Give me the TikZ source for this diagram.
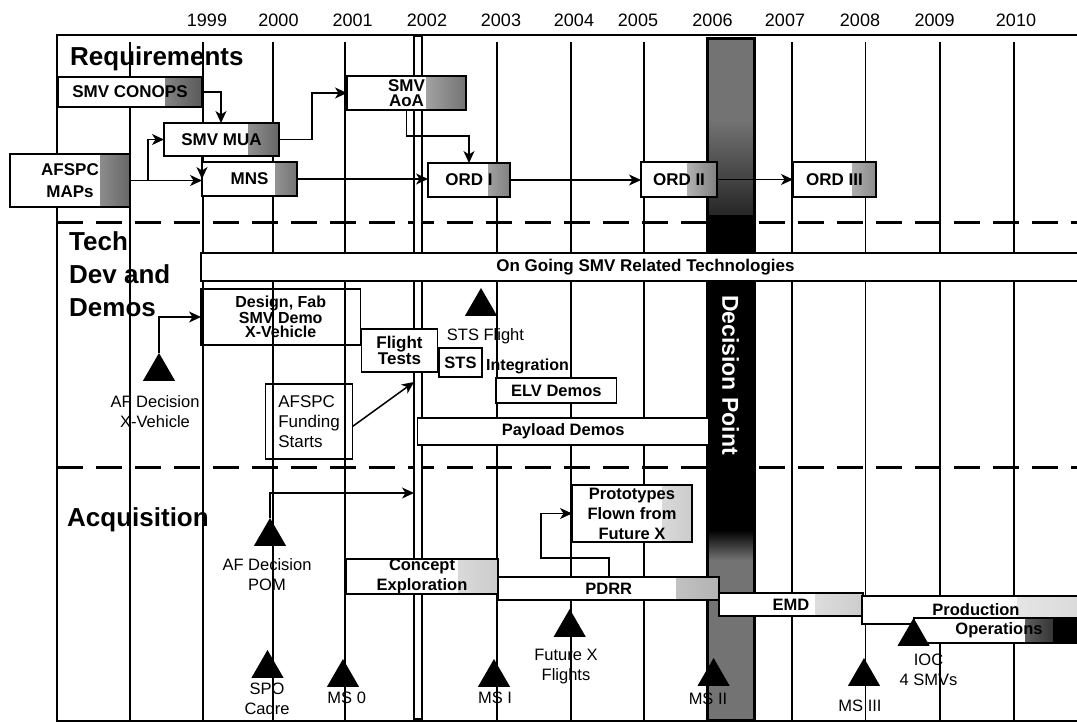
\documentclass[tikz,border=0pt]{standalone}
\usepackage{fontspec}
\setmainfont{Liberation Sans}
\usetikzlibrary{arrows.meta,shapes.geometric,calc}
\tikzset{
 box/.style={draw, line width=1.6pt, fill=white, inner sep=0pt, outer sep=0pt, align=center, font=\fontsize{17}{17}\selectfont\bfseries},
 openbox/.style={draw, line width=1.6pt, inner sep=0pt, outer sep=0pt, align=center},
 gshade/.style 2 args={path picture={\shade[left color=white,right color=#2] ([xshift=-#1]path picture bounding box.north east) rectangle (path picture bounding box.south east);}},
 gline/.style={line width=1.3pt},
 sect/.style={font=\fontsize{26}{26}\selectfont\bfseries, anchor=base west, inner sep=0pt},
 yr/.style={font=\fontsize{18}{18}\selectfont, inner sep=0pt},
 lbl/.style={font=\fontsize{16.5}{20}\selectfont, align=center, inner sep=0pt},
 tri/.style={regular polygon, regular polygon sides=3, fill=black, minimum size=37pt, inner sep=0pt, outer sep=0pt, anchor=corner 1},
 arr/.style={line width=1.5pt, -{Stealth[length=12pt,width=11pt,inset=3.5pt]}},
 sepline/.style={line width=3pt, dash pattern=on 26pt off 13pt},
}
\begin{document}
\begin{tikzpicture}[x=1pt,y=-1pt]
\useasboundingbox (0,0) rectangle (1077,723);
% years
\foreach \yrx/\yrt in {207/1999, 278.5/2000, 352.6/2001, 427/2002, 501/2003, 574/2004, 638/2005, 712.5/2006, 785/2007, 860/2008, 934.6/2009, 1016/2010}
  \node[yr] (y\yrt) at (\yrx,20) {\yrt};
% frame
\draw[line width=1.6pt] (1077,35) -- (57,35) -- (57,721) -- (1077,721);
% section labels
\node[sect] (req) at (70,65) {Requirements};
\node[sect] (tech1) at (69,250) {Tech};
\node[sect] (tech2) at (69,283) {Dev and};
\node[sect] (tech3) at (69,316) {Demos};
\node[sect] (acq) at (67,526) {Acquisition};
% grid
\foreach \gx in {130,203,273,345,497,571,644,792,865.5,940,1014}
  \draw[gline] (\gx,42) -- (\gx,721);
% separators
\draw[sepline] (57,222) -- (1077,222);
\draw[sepline] (57,467) -- (1077,467);
% decision bar
\fill[black!55] (707,38) rectangle (754,720);
\shade[top color=black!55,bottom color=black!85] (707,120) rectangle (754,215);
\fill[black] (707,215) rectangle (754,530);
\shade[top color=black,bottom color=black!55] (707,530) rectangle (754,560);
\draw[line width=3pt] (707,38) rectangle (754,720);
\node[font=\fontsize{23}{23}\selectfont\bfseries, text=white, rotate=-90, inner sep=0pt] (dp) at (730.5,375) {Decision Point};
% now line
\node[draw, fill=white, line width=1.2pt, minimum width=8pt, minimum height=683pt, inner sep=0pt] (now) at (418,377.5) {};
\coordinate (fundtip) at (414,382);
\coordinate (pomtip) at (414,493);

% Requirements boxes
\node[box, gshade={37pt}{black!65}, minimum width=144pt, minimum height=30pt] (conops) at (130,92) {SMV CONOPS};
\node[box, gshade={31pt}{black!60}, minimum width=115pt, minimum height=33pt] (mua) at (221.5,139.5) {SMV MUA};
\node[box, gshade={30pt}{black!60}, minimum width=120pt, minimum height=53pt, font=\fontsize{17}{22}\selectfont\bfseries] (maps) at (70,180.5) {AFSPC\\MAPs};
\node[box, gshade={22pt}{black!55}, minimum width=95pt, minimum height=34pt] (mns) at (249.5,179) {MNS};
\node[box, gshade={40pt}{black!55}, minimum width=119pt, minimum height=34pt, font=\fontsize{17}{15.5}\selectfont\bfseries] (aoa) at (406.5,93) {SMV\\AoA};
\node[box, gshade={22pt}{black!50}, minimum width=82pt, minimum height=34pt] (ordone) at (469,180) {ORD I};
\node[box, gshade={30pt}{black!50}, minimum width=76pt, minimum height=35pt] (ordtwo) at (679,179.5) {ORD II};
\node[box, gshade={24pt}{black!45}, minimum width=83pt, minimum height=35pt] (ordthree) at (834.5,179.5) {ORD III};

% Tech boxes
\node[box, minimum width=889pt, minimum height=28pt] (ongoing) at (645.5,267) {On Going SMV Related Technologies};
\node[openbox, minimum width=159.5pt, minimum height=56pt, font=\fontsize{16}{14.5}\selectfont\bfseries] (design) at (280.75,317) {Design, Fab\\SMV Demo\\X-Vehicle};
\node[box, minimum width=76pt, minimum height=43pt, font=\fontsize{17}{14.5}\selectfont\bfseries] (flight) at (399.5,350.5) {Flight\\Tests};
\node[box, minimum width=43pt, minimum height=29pt, font=\fontsize{16.5}{16.5}\selectfont\bfseries] (sts) at (460.5,362.5) {STS};
\node[font=\fontsize{16}{16}\selectfont\bfseries, anchor=west, inner sep=0pt] (integ) at (486,366) {Integration};
\node[box, minimum width=120.6pt, minimum height=25pt, font=\fontsize{16.5}{16.5}\selectfont\bfseries] (elv) at (556.3,390.5) {ELV Demos};
\node[box, minimum width=291.5pt, minimum height=27pt, font=\fontsize{16.5}{16.5}\selectfont\bfseries] (payload) at (563.25,431.5) {Payload Demos};
\node[openbox, minimum width=87pt, minimum height=75pt, align=left, font=\fontsize{17}{20}\selectfont] (fund) at (309,421.5) {AFSPC\\Funding\\Starts};

% Acquisition boxes
\node[box, gshade={40pt}{black!20}, minimum width=152pt, minimum height=31pt, font=\fontsize{16.5}{20}\selectfont\bfseries] (concept) at (422,576.5) {Concept\\Exploration};
\node[box, gshade={43pt}{black!30}, minimum width=220.5pt, minimum height=23pt, font=\fontsize{16.5}{16.5}\selectfont\bfseries] (pdrr) at (608.75,588.5) {PDRR};
\node[box, gshade={30pt}{black!20}, minimum width=120pt, minimum height=57pt, font=\fontsize{16.5}{20}\selectfont\bfseries] (proto) at (632,513.5) {Prototypes\\Flown from\\Future X};
\node[box, gshade={48pt}{black!20}, minimum width=144pt, minimum height=23pt, font=\fontsize{16.5}{16.5}\selectfont\bfseries] (emd) at (791,604.5) {EMD};
\node[box, gshade={73pt}{black!15}, minimum width=228pt, minimum height=28pt, font=\fontsize{16.5}{16.5}\selectfont\bfseries] (production) at (976,610) {Production};
\node[box, minimum width=176pt, minimum height=25pt, font=\fontsize{16.5}{16.5}\selectfont\bfseries,
  path picture={\shade[left color=white,right color=black] ([xshift=-65pt]path picture bounding box.north east) rectangle ([xshift=-37pt]path picture bounding box.south east);
  \fill[black] ([xshift=-37pt]path picture bounding box.north east) rectangle (path picture bounding box.south east);}] (operations) at (1002,630.5) {Operations\hspace{6pt}};

% Requirements arrows
\draw[arr] (conops.east) -| ([xshift=57pt]mua.north west);
\draw[arr] (maps.east) -- (maps.east -| mns.west);
\coordinate (br) at (148,180.5);
\draw[arr] (br) |- (mua.west);
\draw[arr] (mua.south -| mns.west) -- (mns.west);
\draw[arr] (mua.east) -- ++(33,0) |- (aoa.west);
\draw[arr] (aoa.south) -- ++(0,26) -| (ordone.north);
\draw[arr] (mns.east) -- (mns.east -| ordone.west);
\draw[arr] (ordone.east) -- (ordone.east -| ordtwo.west);
\draw[arr] (ordtwo.east) -- (ordtwo.east -| ordthree.west);

% triangles
\node[tri] (txveh) at (159,353) {};
\node[tri] (tsts) at (481,288) {};
\node[tri] (tpom) at (270,518) {};
\node[tri] (tspo) at (267.5,650) {};
\node[tri] (tms0) at (343,659) {};
\node[tri] (tms1) at (494,659) {};
\node[tri] (tfx) at (569.7,609) {};
\node[tri] (tms2) at (713.6,658) {};
\node[tri] (tms3) at (864,658) {};
\node[tri] (tioc) at (913.6,618) {};

% Tech arrows
\draw[arr] (txveh.corner 1) |- (design.west);
\draw[arr] ([yshift=-5pt]fund.east) -- (fundtip);
% Acquisition arrows
\draw[arr] (tpom.corner 1) |- (pomtip);
\draw[arr] (pdrr.north) -- ++(0,-19) -- ++(-68,0) |- (proto.west);

% labels
\node[lbl] (lxveh) at (155,412) {AF Decision\\X-Vehicle};
\node[lbl] (lsts) at (485.5,336) {STS Flight};
\node[lbl] (lpom) at (267,575) {AF Decision\\POM};
\node[lbl] (lspo) at (267,699) {SPO\\Cadre};
\node[lbl] (lms0) at (346.7,698) {MS 0};
\node[lbl] (lms1) at (495,698) {MS I};
\node[lbl] (lfx) at (566,667) {Future X\\Flights};
\node[lbl] (lms2) at (708,699) {MS II};
\node[lbl] (lms3) at (860,706) {MS III};
\node[lbl] (lioc) at (928.5,670) {IOC\\4 SMVs};
\end{tikzpicture}
\end{document}
